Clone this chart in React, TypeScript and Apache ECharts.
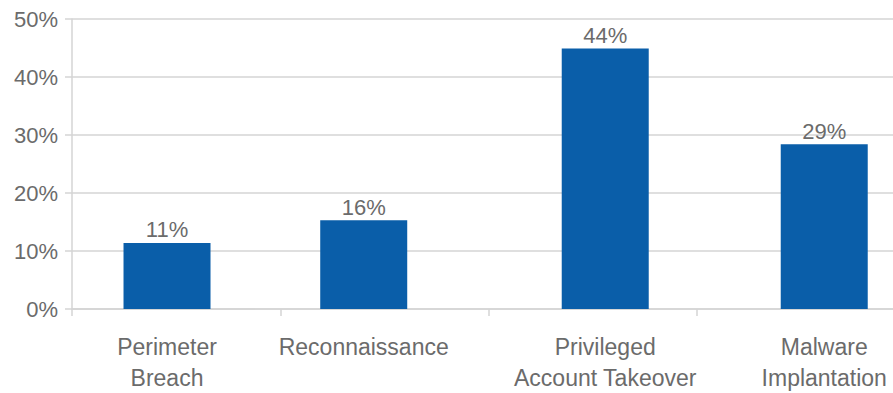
import React, { useEffect, useRef } from "react";
import * as echarts from "echarts";

const categories = ["Perimeter\nBreach", "Reconnaissance", "Privileged\nAccount Takeover", "Malware\nImplantation"];
const values = [11.4, 15.3, 44.9, 28.4];
const valueLabels = ["11%", "16%", "44%", "29%"];
const yTicks = [0, 10, 20, 30, 40, 50];
// where each bar sits along the x axis (axis units, category boundaries at integers)
const barSlots = [0.456, 1.4, 2.559, 3.61];
const boundaryTicks = [0, 1, 2, 3];

const FONT = "'Liberation Sans', Arial, sans-serif";
const TEXT = "#6b6b6b";
const LINE = "#d4d4d4";

export default function App() {
  const ref = useRef<HTMLDivElement>(null);
  useEffect(() => {
    if (!ref.current) return;
    const chart = echarts.init(ref.current, undefined, { renderer: "svg" });
    chart.setOption({
      animation: false,
      grid: { left: 72, right: 0, top: 19, height: 294, containLabel: false },
      xAxis: {
        type: "value",
        min: 0,
        max: 3.94,
        axisLine: { show: true, lineStyle: { color: LINE, width: 1.5 } },
        axisTick: { show: true, length: 7, customValues: boundaryTicks, lineStyle: { color: LINE, width: 1.5 } },
        splitLine: { show: false },
        axisLabel: {
          customValues: barSlots,
          formatter: (v: number) => {
            const i = barSlots.findIndex((s) => Math.abs(s - v) < 1e-6);
            return i >= 0 ? categories[i] : "";
          },
          fontFamily: FONT,
          fontSize: 23,
          lineHeight: 31,
          color: TEXT,
          margin: 22,
          align: "center",
          hideOverlap: false,
        },
      },
      yAxis: {
        type: "value",
        min: yTicks[0],
        max: yTicks[yTicks.length - 1],
        interval: 10,
        axisLine: { show: true, lineStyle: { color: LINE, width: 1.5 } },
        axisTick: { show: true, length: 7, lineStyle: { color: LINE, width: 1.5 } },
        splitLine: { show: true, lineStyle: { color: LINE, width: 1.5 } },
        axisLabel: {
          formatter: "{value}%",
          fontFamily: FONT,
          fontSize: 22,
          color: TEXT,
          margin: 14,
        },
      },
      series: [
        {
          type: "bar",
          barWidth: 87,
          data: values.map((v, i) => [barSlots[i], v]),
          itemStyle: { color: "#0A5EA9" },
          label: {
            show: true,
            position: "top",
            distance: 2,
            fontFamily: FONT,
            fontSize: 22,
            color: TEXT,
            formatter: (p: any) => valueLabels[p.dataIndex],
          },
        },
      ],
    });
    return () => chart.dispose();
  }, []);
  return <div ref={ref} style={{ width: 893, height: 393, position: "absolute", left: 0, top: 0 }} />;
}
